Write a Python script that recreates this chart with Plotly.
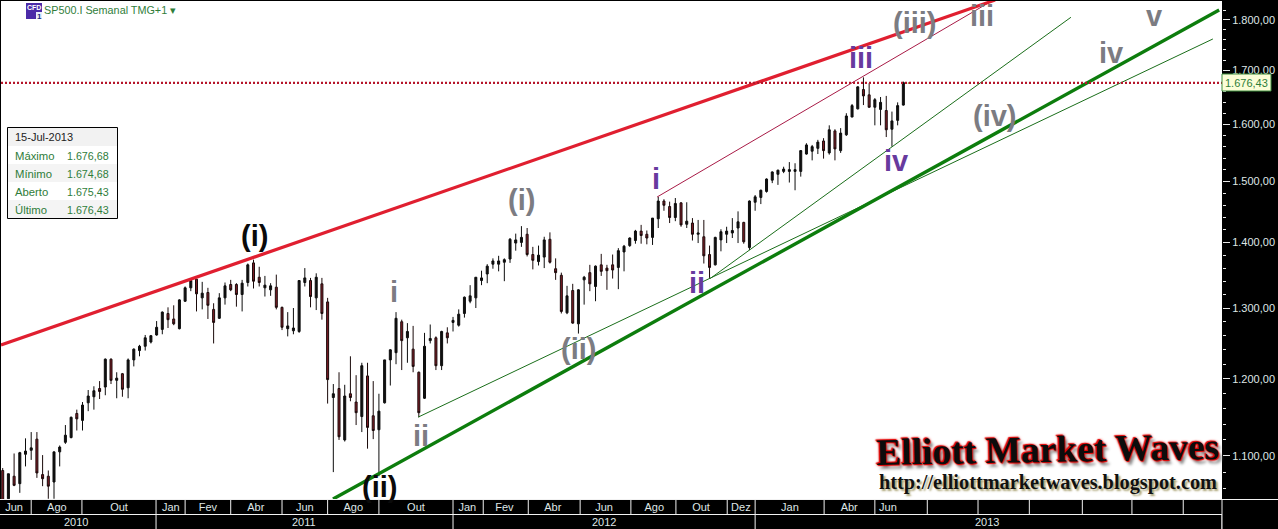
import math
import plotly.graph_objects as go

opens = [1082,1048,1075,1066,1102,1107,1121,1077,1075,1068,1105,1117,1123,1154,1145,1168,1176,1187,1189,1227,
         1198,1207,1188,1226,1239,1245,1251,1261,1269,1292,1284,1270,1310,1330,1343,1315,1323,1298,1285,1315,
         1335,1335,1320,1338,1368,1346,1330,1327,1331,1301,1270,1267,1266,1338,1341,1315,1336,1309,1175,1187,
         1120,1180,1169,1150,1204,1151,1133,1168,1226,1236,1280,1257,1241,1209,1174,1253,1257,1218,1264,1279,
         1275,1292,1310,1315,1341,1351,1366,1366,1369,1374,1399,1400,1413,1381,1370,1377,1405,1359,1349,1293,
         1326,1277,1342,1353,1332,1365,1360,1365,1361,1385,1395,1403,1418,1413,1408,1438,1467,1458,1440,1464,
         1429,1431,1413,1409,1381,1365,1404,1413,1415,1423,1432,1392,1465,1473,1483,1502,1512,1517,1517,1517,
         1517,1547,1552,1557,1570,1549,1588,1553,1581,1613,1628,1664,1654,1631,1627,1625,1591,1607,1635,1675.43]
highs = [1085,1078,1103,1105,1122,1130,1130,1101,1082,1105,1113,1139,1150,1159,1169,1185,1190,1197,1228,1228,
         1209,1208,1228,1242,1247,1261,1261,1281,1295,1301,1304,1313,1332,1342,1343,1339,1330,1307,1322,1338,
         1342,1337,1342,1367,1373,1362,1348,1337,1350,1302,1294,1300,1341,1360,1345,1352,1345,1315,1193,1209,
         1192,1231,1205,1222,1222,1197,1180,1226,1241,1294,1283,1278,1274,1210,1264,1276,1259,1267,1272,1287,
         1298,1317,1334,1346,1356,1366,1375,1379,1375,1407,1414,1426,1423,1393,1395,1409,1416,1375,1353,1333,
         1336,1328,1348,1365,1364,1382,1365,1381,1391,1396,1408,1420,1428,1419,1439,1474,1470,1466,1472,1465,
         1465,1439,1436,1436,1395,1409,1421,1425,1439,1450,1433,1468,1477,1486,1505,1517,1520,1525,1533,1531,
         1554,1566,1563,1572,1575,1598,1591,1593,1620,1637,1670,1687,1676,1648,1650,1652,1623,1640,1679,1676.68]
lows = [1040,1040,1063,1055,1087,1095,1073,1063,1048,1048,1087,1115,1122,1132,1132,1157,1159,1173,1178,1193,
        1174,1176,1174,1217,1231,1239,1249,1260,1262,1271,1275,1269,1309,1325,1295,1298,1284,1249,1284,1305,
        1325,1302,1295,1332,1329,1332,1317,1318,1298,1268,1259,1262,1264,1332,1301,1297,1283,1167,1080,1120,
        1118,1170,1139,1130,1109,1121,1075,1167,1191,1220,1212,1222,1209,1149,1173,1249,1212,1212,1249,1266,
        1273,1286,1307,1300,1334,1337,1359,1355,1340,1368,1387,1393,1378,1358,1364,1360,1367,1342,1292,1291,
        1277,1263,1305,1325,1310,1348,1327,1344,1328,1355,1393,1398,1398,1397,1396,1423,1451,1431,1434,1425,
        1423,1403,1399,1367,1345,1364,1386,1399,1407,1399,1398,1388,1451,1462,1481,1497,1494,1514,1498,1485,
        1508,1546,1536,1547,1539,1546,1536,1549,1579,1613,1627,1635,1630,1598,1598,1577,1560,1598,1634,1674.68]
closes = [1045,1078,1064,1104,1106,1110,1079,1072,1063,1105,1111,1126,1149,1147,1165,1177,1184,1183,1227,1198,
          1201,1186,1226,1241,1245,1257,1260,1272,1294,1283,1277,1312,1330,1341,1321,1322,1304,1279,1315,1333,
          1327,1320,1337,1365,1340,1338,1334,1333,1301,1272,1274,1271,1341,1345,1317,1346,1292,1199,1180,1124,
          1177,1175,1155,1218,1136,1132,1157,1226,1240,1285,1253,1266,1217,1155,1245,1256,1218,1266,1257,1282,
          1291,1316,1318,1346,1345,1363,1371,1371,1373,1405,1404,1408,1381,1372,1380,1404,1369,1353,1295,1318,
          1278,1327,1346,1336,1363,1355,1356,1357,1387,1394,1407,1418,1411,1407,1439,1467,1460,1440,1463,1428,
          1434,1413,1415,1379,1361,1408,1417,1418,1419,1433,1401,1467,1474,1485,1504,1516,1519,1521,1520,1520,
          1553,1563,1560,1568,1553,1590,1556,1584,1615,1634,1669,1652,1631,1645,1640,1590,1606,1634,1677,1676.43]

last_price = 1676.43
price_ticks = [1100, 1200, 1300, 1400, 1500, 1600, 1700, 1800]
price_labels = ["1.100,00", "1.200,00", "1.300,00", "1.400,00", "1.500,00", "1.600,00", "1.700,00", "1.800,00"]
minor_prices = [p for p in range(1060, 1840, 20) if p % 100]

month_names = ["Jun", "Ago", "Out", "Jan", "Fev", "Abr", "Jun", "Ago", "Out", "Jan", "Fev", "Abr", "Jun", "Ago", "Out", "Dez", "Jan", "Abr", "Jun"]
month_centres = [2, 9.5, 20.4, 29.5, 36, 44.4, 53, 61.5, 72.5, 81.5, 88, 96.5, 105.5, 114.3, 122.5, 129.5, 138.1, 148.5, 155.3]
month_edges = [5, 13.9, 26.9, 32, 40, 49, 57, 66, 79, 84.3, 92.2, 101.3, 110.2, 118.1, 127.1, 132, 144.1, 153, 162.2, 171.1, 180.1, 189.4, 198.1, 207.1]
year_names = ["2010", "2011", "2012", "2013"]
year_centres = [12.9, 52.9, 105.5, 172.7]
year_edges = [26.9, 79, 132, 213.9]

# trend lines: (bar index, price)
red_thick = ([-0.3, 174.1], [1246.7, 1841])
red_thin = ([114.8, 173.2], [1473.7, 1837])
green_thick = ([57.95, 213.4], [1047.7, 1820.5])
green_thin_a = ([72.9, 212.3], [1149.3, 1761.8])
green_thin_b = ([124.1, 187.4], [1344, 1805.5])

X0, X1 = -0.298, 213.9
Y0, Y1 = 1047.7, 1839
W, H = 1278, 529
L, R, T, B = 1, 56, 1, 30
PW, PH = W - L - R, H - T - B


def px(x):
    return (x - L) / PW


def py(y):
    return 1 - (y - T) / PH


AXIS_TXT = "#dfe6e6"
GREY = "#7c7c82"
PURPLE = "#673a9e"
GREEN_TXT = "#2f7d3a"
SANS = "Liberation Sans, Arial, sans-serif"
SERIF = "Liberation Serif, Times New Roman, serif"

fig = go.Figure()
idx = list(range(len(opens)))
fig.add_trace(go.Candlestick(
    x=idx[:-1], open=opens[:-1], high=highs[:-1], low=lows[:-1], close=closes[:-1],
    increasing=dict(line=dict(color="#0d0d0d", width=1), fillcolor="#111111"),
    decreasing=dict(line=dict(color="#1a0a0a", width=1), fillcolor="#7c1c26"),
    showlegend=False, hoverinfo="skip"))
fig.add_trace(go.Candlestick(
    x=idx[-1:], open=opens[-1:], high=highs[-1:], low=lows[-1:], close=closes[-1:],
    increasing=dict(line=dict(color="#9a9a50", width=1), fillcolor="#d8d890"),
    decreasing=dict(line=dict(color="#9a9a50", width=1), fillcolor="#d8d890"),
    showlegend=False, hoverinfo="skip"))


def line(xy, color, width, dash=None):
    fig.add_trace(go.Scatter(x=xy[0], y=xy[1], mode="lines", showlegend=False, hoverinfo="skip",
                             line=dict(color=color, width=width, dash=dash)))


line(red_thin, "#a81a46", 1)
line(green_thin_a, "#1a6e1a", 1)
line(green_thin_b, "#1a6e1a", 1)
line(red_thick, "#e01f30", 3.2)
line(green_thick, "#0d7d0d", 3.4)
line(([X0, X1], [last_price, last_price]), "#b5152a", 2.2, "2px,2px")

shapes = []


def rect(x0, y0, x1, y1, fill, lc=None, lw=0):
    shapes.append(dict(type="rect", xref="paper", yref="paper", x0=px(x0), x1=px(x1), y0=py(y0), y1=py(y1),
                       fillcolor=fill, line=dict(color=lc or fill, width=lw), layer="above"))


def hv(x0, y0, x1, y1, color="#f2f2f2", w=1):
    shapes.append(dict(type="line", xref="paper", yref="paper", x0=px(x0), x1=px(x1), y0=py(y0), y1=py(y1),
                       line=dict(color=color, width=w), layer="above"))


# time-axis grid
hv(0, 499.5, 1278, 499.5)
hv(0, 514.5, 1222, 514.5)
for e in month_edges:
    shapes.append(dict(type="line", xref="x", yref="paper", x0=e, x1=e, y0=py(499.5), y1=py(514.5),
                       line=dict(color="#f2f2f2", width=1), layer="above"))
for e in year_edges:
    shapes.append(dict(type="line", xref="x", yref="paper", x0=e, x1=e, y0=py(514.5), y1=py(529),
                       line=dict(color="#f2f2f2", width=1), layer="above"))
hv(1222, 499.5, 1222, 529)

# info box
rect(8, 128, 117, 146, "#f2f2f2")
rect(8, 164, 117, 182, "#f4f4f4")
rect(8, 200, 117, 218, "#f4f4f4")
shapes.append(dict(type="rect", xref="paper", yref="paper", x0=px(7.5), x1=px(117.5), y0=py(127.5), y1=py(218.5),
                   line=dict(color="#000", width=1), layer="above"))
# instrument icon
rect(26, 3, 42, 19, "#4b2aa8")
rect(36, 12, 42, 19, "#e8eefc")
# price flag
rect(1222, 74, 1271, 91, "#fbfdd8", "#3f8f3f", 1)

anns = []


def text(s, x, y, size, color, family=SANS, bold=False, xanchor="center", angle=0, shadow=None):
    f = dict(size=size, color=color, family=family)
    if bold:
        f["weight"] = "bold"
    if shadow:
        f["shadow"] = shadow
    anns.append(dict(text=s, xref="paper", yref="paper", x=px(x), y=py(y), xanchor=xanchor, yanchor="middle",
                     showarrow=False, font=f, textangle=angle, borderpad=0, borderwidth=0))


for s, c in zip(year_names, year_centres):
    anns.append(dict(text=s, xref="x", yref="paper", x=c, y=py(522), yanchor="middle", showarrow=False,
                     font=dict(size=11, color=AXIS_TXT, family=SANS)))

# wave labels
BIG = 29
for s, x, y, c in [("(i)", 254, 236, "#0a0a0a"), ("(ii)", 379, 487, "#0a0a0a"),
                   ("i", 394, 292, GREY), ("ii", 421, 436, GREY), ("(i)", 521, 200, GREY), ("(ii)", 578, 349, GREY),
                   ("i", 656, 179, PURPLE), ("ii", 697, 283, PURPLE), ("iii", 861, 58, PURPLE), ("iv", 896, 161, PURPLE),
                   ("(iii)", 915, 23, GREY), ("iii", 982, 16, GREY), ("(iv)", 995, 116, GREY), ("iv", 1111, 53, GREY), ("v", 1154, 16, GREY)]:
    text(s, x, y, BIG, c, bold=True)

# header
text("CFD", 34, 8, 7, "#ffffff", bold=True)
text("1", 39, 16, 8, "#1a2a80", bold=True)
text("SP500.I Semanal TMG+1 ▾", 44, 10, 10.8, GREEN_TXT, xanchor="left")

# info box text
text("15-Jul-2013", 15, 137, 11, "#222222", xanchor="left")
rows = [("Máximo", "1.676,68", 155.5), ("Mínimo", "1.674,68", 173.5), ("Aberto", "1.675,43", 191.5), ("Último", "1.676,43", 210)]
for a, b, y in rows:
    text(a, 15, y, 11.3, GREEN_TXT, xanchor="left")
    text(b, 66.5, y, 10.7, GREEN_TXT, xanchor="left")

text("1.676,43", 1246.5, 83, 11, GREEN_TXT)

# watermark
text("Elliott Market Waves", 1047, 449, 37.5, "#0c0c0c", family=SERIF, bold=True, angle=-1,
     shadow="-1px -1px 1px #e00000, 1px 1px 1px #e00000, 0 0 3px #e00000, 3px 4px 3px #8c8c8c")
text("http://elliottmarketwaves.blogspot.com", 1048, 482, 20.3, "#111111", family=SERIF, bold=True,
     shadow="2px 2px 2px #a8a070")

fig.update_layout(
    width=W, height=H, margin=dict(l=L, r=R, t=T, b=B, pad=0),
    paper_bgcolor="#000000", plot_bgcolor="#ffffff",
    font=dict(family=SANS, size=11, color=AXIS_TXT),
    showlegend=False, shapes=shapes, annotations=anns, boxgap=0.5,
    xaxis=dict(range=[X0, X1], rangeslider=dict(visible=False), showgrid=False, zeroline=False,
               tickmode="array", tickvals=month_centres, ticktext=month_names, ticks="", ticklabelstandoff=0,
               tickfont=dict(size=11, color=AXIS_TXT), showline=False),
    yaxis=dict(type="log", range=[math.log10(Y0), math.log10(Y1)], side="right", showgrid=False, zeroline=False,
               tickmode="array", tickvals=price_ticks, ticktext=price_labels, ticks="outside", ticklen=7,
               tickcolor="#e8e8e8", tickwidth=1, tickfont=dict(size=11, color=AXIS_TXT), showline=False,
               minor=dict(tickmode="array", tickvals=minor_prices, ticks="outside", ticklen=3,
                          tickcolor="#e8e8e8", tickwidth=1, showgrid=False)),
)

fig.write_html("out.html", config=dict(displayModeBar=False),
               post_script="document.body.style.margin='0';document.documentElement.style.overflow='hidden';document.body.style.background='#000';")
